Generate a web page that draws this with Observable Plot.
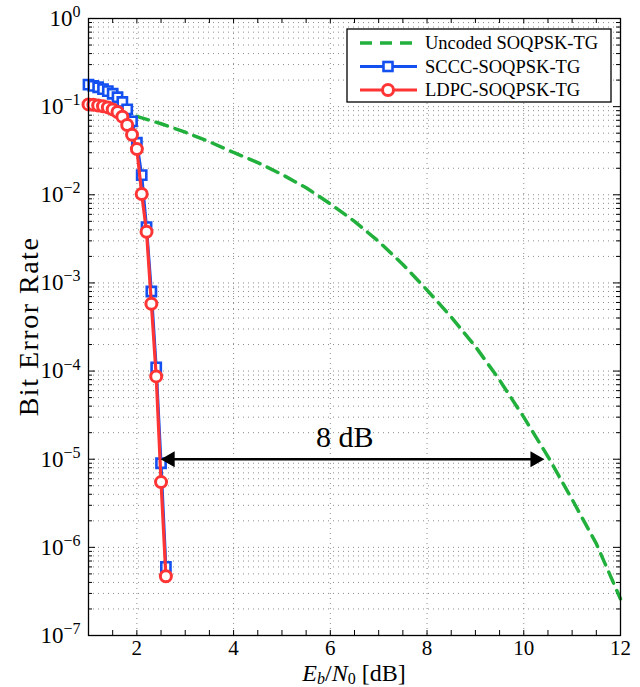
<!DOCTYPE html>
<html><head><meta charset="utf-8">
<script src="https://cdn.jsdelivr.net/npm/d3@7"></script>
<script src="https://cdn.jsdelivr.net/npm/@observablehq/plot@0.6"></script>
<style>body{margin:0;background:#fff;} svg{display:block;}</style>
</head><body><div id="chart"></div>
<script>
// ---- data ----
const seriesNames = ["Uncoded SOQPSK-TG", "SCCC-SOQPSK-TG", "LDPC-SOQPSK-TG"];
const seriesColors = ["#22b03c", "#1450f0", "#ff3535"];

const uncodedEbN0 = [2, 2.5, 3, 3.5, 4, 4.5, 5, 5.5, 6, 6.5, 7, 7.5, 8, 8.5, 9, 9.5, 10, 10.5, 11, 11.5, 12];
const uncodedBER  = [0.0776, 0.0640, 0.0513, 0.0400, 0.0302, 0.0232, 0.0170, 0.0120, 0.0079, 0.0050, 0.00295, 0.00162, 0.00083, 0.00041, 0.00019, 7.9e-5, 3.0e-5, 1.07e-5, 3.5e-6, 1.1e-6, 2.6e-7];

const scccEbN0 = [1.0, 1.1, 1.2, 1.3, 1.4, 1.5, 1.6, 1.7, 1.8, 1.9, 2.0, 2.1, 2.2, 2.3, 2.4, 2.5, 2.6];
const scccBER  = [0.178, 0.172, 0.166, 0.158, 0.150, 0.140, 0.128, 0.113, 0.093, 0.068, 0.039, 0.0167, 0.0043, 0.0008, 0.00011, 9e-6, 6e-7];

const ldpcEbN0 = [1.0, 1.1, 1.2, 1.3, 1.4, 1.5, 1.6, 1.7, 1.8, 1.9, 2.0, 2.1, 2.2, 2.3, 2.4, 2.5, 2.6];
const ldpcBER  = [0.106, 0.105, 0.103, 0.101, 0.098, 0.093, 0.087, 0.077, 0.062, 0.048, 0.033, 0.0102, 0.0038, 0.00058, 8.7e-5, 5.5e-6, 4.7e-7];

const xTickValues = [2, 4, 6, 8, 10, 12];
const xMinorTickValues = [1.5, 2, 2.5, 3, 3.5, 4, 4.5, 5, 5.5, 6, 6.5, 7, 7.5, 8, 8.5, 9, 9.5, 10, 10.5, 11, 11.5];
const yTickValues = [1e-7, 1e-6, 1e-5, 1e-4, 1e-3, 1e-2, 1e-1, 1];
const yMinorTickValues = [];
for (let e = -7; e < 0; e++) for (let m = 2; m <= 9; m++) yMinorTickValues.push(m * Math.pow(10, e));

const gapStart = 2.5, gapEnd = 10.42, gapBER = 1e-5, gapLabel = "8 dB", gapLabelX = 6.3;
const xLabel = "E_b/N_0 [dB]";
const yLabel = "Bit Error Rate";

// ---- build tables ----
const uncoded = uncodedEbN0.map((x, i) => ({x, y: uncodedBER[i]}));
const sccc = scccEbN0.map((x, i) => ({x, y: scccBER[i]}));
const ldpc = ldpcEbN0.map((x, i) => ({x, y: ldpcBER[i]}));
const gap = [{x1: gapStart, x2: gapEnd, mid: gapLabelX, y: gapBER, label: gapLabel}];

const W = 640, H = 687, mL = 88, mR = 20, mT = 18, mB = 52;
const pw = W - mL - mR, ph = H - mT - mB;
const serif = "'Liberation Serif', 'Times New Roman', serif";
const grid = "#8c8c8c";

const chart = Plot.plot({
  width: W, height: H,
  marginLeft: mL, marginRight: mR, marginTop: mT, marginBottom: mB,
  style: {fontFamily: serif, background: "#fff", color: "#000"},
  x: {domain: [1, 12]},
  y: {type: "log", domain: [1e-7, 1]},
  marks: [
    // grid
    Plot.ruleY(yMinorTickValues.concat(yTickValues), {y: d => d, stroke: grid, strokeDasharray: "1,4", strokeWidth: 1}),
    Plot.ruleX(xTickValues, {x: d => d, stroke: grid, strokeDasharray: "1,4", strokeWidth: 1}),
    // inward ticks
    Plot.tickX(xMinorTickValues, {x: d => d, insetTop: ph - 5, stroke: "#000"}),
    Plot.tickX(xMinorTickValues, {x: d => d, insetBottom: ph - 5, stroke: "#000"}),
    Plot.tickY(yMinorTickValues, {y: d => d, insetRight: pw - 4, stroke: "#000"}),
    Plot.tickY(yMinorTickValues, {y: d => d, insetLeft: pw - 4, stroke: "#000"}),
    Plot.tickY(yTickValues, {y: d => d, insetRight: pw - 7, stroke: "#000"}),
    Plot.tickY(yTickValues, {y: d => d, insetLeft: pw - 7, stroke: "#000"}),
    // axes labels
    Plot.axisX({ticks: xTickValues, tickSize: 0, tickPadding: 5, fontSize: 21, label: null}),
    Plot.axisY({ticks: yTickValues, tickSize: 0, tickPadding: 8, fontSize: 23, label: null,
      tickFormat: d => "10^" + Math.round(Math.log10(d))}),
    // series
    Plot.line(uncoded, {x: "x", y: "y", stroke: seriesColors[0], strokeWidth: 3.5, strokeDasharray: "12,8"}),
    Plot.line(sccc, {x: "x", y: "y", stroke: seriesColors[1], strokeWidth: 3}),
    Plot.dot(sccc, {x: "x", y: "y", symbol: "square", r: 5.2, stroke: seriesColors[1], strokeWidth: 2.6, fill: "#fff"}),
    Plot.line(ldpc, {x: "x", y: "y", stroke: seriesColors[2], strokeWidth: 3.2}),
    Plot.dot(ldpc, {x: "x", y: "y", r: 5.5, stroke: seriesColors[2], strokeWidth: 3, fill: "#fff"}),
    // annotation
    Plot.ruleY(gap, {y: "y", x1: "x1", x2: "x2", stroke: "#000", strokeWidth: 2.5, insetLeft: 6, insetRight: 6}),
    Plot.dot(gap, {x: "x1", y: "y", symbol: "triangle", r: 6, rotate: -90, dx: 9, fill: "#000", stroke: "none"}),
    Plot.dot(gap, {x: "x2", y: "y", symbol: "triangle", r: 6, rotate: 90, dx: -9, fill: "#000", stroke: "none"}),
    Plot.text(gap, {x: "mid", y: "y", text: "label", dy: -22, fontSize: 30, fill: "#000"}),
    Plot.frame({stroke: "#000", strokeWidth: 1.3})
  ]
});
document.getElementById("chart").appendChild(chart);

const svg = d3.select(chart);
// superscript exponents on y tick labels
svg.selectAll('[aria-label="y-axis tick label"] text').each(function() {
  const t = d3.select(this);
  const s = t.text();
  const exp = s.split("^")[1];
  t.text(null);
  t.append("tspan").text("10");
  t.append("tspan").attr("dy", "-0.55em").attr("font-size", 16).text(exp.replace("-", "\u2212"));
});

// axis titles
const xl = svg.append("text").attr("x", mL + pw / 2).attr("y", 681).attr("text-anchor", "middle")
  .attr("font-family", serif).attr("font-size", 24).attr("fill", "#000");
const parts = xLabel.match(/^(.)_(.)\/(.)_(.)(.*)$/);
xl.append("tspan").attr("font-style", "italic").text(parts[1]);
xl.append("tspan").attr("font-style", "italic").attr("font-size", 16).attr("dy", 3).text(parts[2]);
xl.append("tspan").attr("dy", -3).text("/");
xl.append("tspan").attr("font-style", "italic").text(parts[3]);
xl.append("tspan").attr("font-size", 16).attr("dy", 3).text(parts[4]);
xl.append("tspan").attr("dy", -3).text("\u00a0" + parts[5].trim());

svg.append("text").attr("transform", `translate(38,${mT + ph / 2}) rotate(-90)`).attr("text-anchor", "middle")
  .attr("font-family", serif).attr("font-size", 28).attr("letter-spacing", 1.5).attr("fill", "#000").text(yLabel);

// legend
const lg = svg.append("g").attr("font-family", serif).attr("font-size", 18.5).attr("text-anchor", "start");
lg.append("rect").attr("x", 347).attr("y", 29).attr("width", 264).attr("height", 73)
  .attr("fill", "#fff").attr("stroke", "#000").attr("stroke-width", 1.3);
const rows = [43, 66.5, 90];
seriesNames.forEach((name, i) => {
  const y = rows[i];
  const line = lg.append("line").attr("x1", 360).attr("x2", 417).attr("y1", y).attr("y2", y)
    .attr("stroke", seriesColors[i]).attr("stroke-width", i === 0 ? 3.5 : 3);
  if (i === 0) line.attr("stroke-dasharray", "12,8");
  if (i === 1) lg.append("rect").attr("x", 383.5).attr("y", y - 4.5).attr("width", 9).attr("height", 9)
    .attr("fill", "#fff").attr("stroke", seriesColors[i]).attr("stroke-width", 2.6);
  if (i === 2) lg.append("circle").attr("cx", 388).attr("cy", y).attr("r", 5.5)
    .attr("fill", "#fff").attr("stroke", seriesColors[i]).attr("stroke-width", 3);
  lg.append("text").attr("x", 425).attr("y", y).attr("dy", "0.35em").attr("fill", "#000").text(name);
});
</script>
</body></html>
